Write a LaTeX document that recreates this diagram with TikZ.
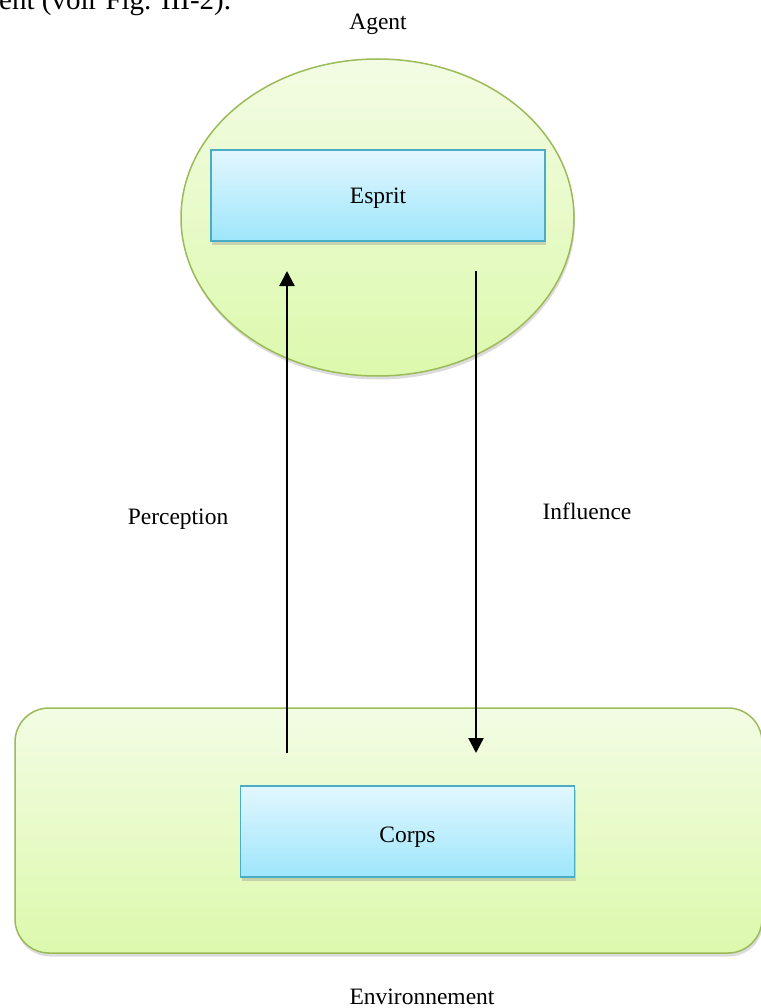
\documentclass[tikz,border=0pt]{standalone}
\usepackage{fontspec}
\setmainfont{Liberation Serif}
\usetikzlibrary{shapes.geometric,shadows,arrows.meta}

\definecolor{leafborder}{HTML}{9BBB59}
\definecolor{leaftop}{HTML}{F3FCE4}
\definecolor{leafbottom}{HTML}{DCF9AC}
\definecolor{skyborder}{HTML}{4BACC6}
\definecolor{skytop}{HTML}{E2F7FF}
\definecolor{skybottom}{HTML}{9EE6FB}

\tikzset{
  leaf/.style={draw=leafborder, line width=1.5pt, top color=leaftop, bottom color=leafbottom,
    inner sep=0pt, drop shadow={shadow xshift=1pt, shadow yshift=-3.5pt, opacity=0.28}},
  box/.style={draw=skyborder, line width=1.3pt, top color=skytop, bottom color=skybottom,
    minimum width=334pt, minimum height=91pt, inner sep=0pt,
    drop shadow={shadow xshift=1pt, shadow yshift=-3.5pt, opacity=0.32},
    font=\fontsize{23.5}{28}\selectfont},
  lbl/.style={inner sep=0pt, anchor=base, font=\fontsize{23.5}{28}\selectfont},
  flow/.style={line width=2.3pt, -{Triangle[width=15pt,length=15pt]}}
}

\begin{document}
\begin{tikzpicture}[x=1pt,y=-1pt]
\useasboundingbox (0,0) rectangle (760,1008);

% running text of the page above the figure
\node[inner sep=0pt, anchor=base west, font=\fontsize{29}{34}\selectfont] (pagetext) at (-1,10) {ent (voir Fig. III-2).};

% agent: mind inside an ellipse
\node[leaf, ellipse, minimum width=393pt, minimum height=317pt] (agent) at (377.5,217.5) {};
\node[box] (esprit) at (378,195.5) {};
\node[lbl] (espritlbl) at (378,204) {Esprit};
\node[lbl] (agentlbl) at (378,30) {Agent};

% environment: body inside a rounded rectangle
\node[leaf, rectangle, rounded corners=34pt, minimum width=747pt, minimum height=245pt] (env) at (388.5,830.5) {};
\node[box] (corps) at (407.5,831.5) {};
\node[lbl] (corpslbl) at (407.5,842) {Corps};
\node[lbl] (envlbl) at (422,1004) {Environnement};

% perception and influence flows
\coordinate (pfrom) at (287,753);
\coordinate (pto) at (287,271);
\coordinate (ifrom) at (476,271);
\coordinate (ito) at (476,753);
\draw[flow] (pfrom) -- (pto);
\draw[flow] (ifrom) -- (ito);
\node[lbl] (perclbl) at (178,524) {Perception};
\node[lbl] (inflbl) at (587,519) {Influence};
\end{tikzpicture}
\end{document}
